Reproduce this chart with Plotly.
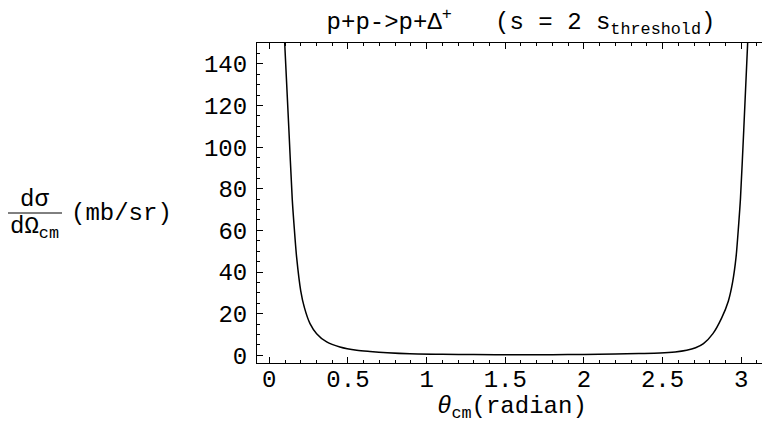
import plotly.graph_objects as go

# Data (theta in radians, dsigma/dOmega in mb/sr)
theta = [0.098, 0.125, 0.146, 0.157, 0.174, 0.200, 0.223, 0.259, 0.301, 0.365,
         0.449, 0.556, 0.640, 0.750, 0.894, 1.10, 1.30, 1.57, 1.80, 2.00,
         2.20, 2.35, 2.484, 2.58, 2.653, 2.71, 2.76, 2.82, 2.876, 2.918,
         2.945, 2.967, 2.984, 2.995, 3.016, 3.041]
dsigma = [150, 108, 75, 63, 47, 31, 23, 15.2, 10.4, 6.4,
          4.0, 2.4, 1.8, 1.2, 0.7, 0.45, 0.35, 0.3, 0.3, 0.4,
          0.6, 0.85, 1.1, 1.6, 2.4, 3.6, 5.6, 10.4, 18, 26,
          35, 47, 63, 75, 108, 150]

x_ticks = [0, 0.5, 1, 1.5, 2, 2.5, 3]
x_tick_labels = ["0", "0.5", "1", "1.5", "2", "2.5", "3"]
y_ticks = [0, 20, 40, 60, 80, 100, 120, 140]
y_tick_labels = ["0", "20", "40", "60", "80", "100", "120", "140"]

# page body has an 8px margin; the figure is sized to fill the rest of the window
OFF = 8
W, H = 770 - OFF, 423 - OFF
ML, MT, MB, MR = 257 - OFF, 43 - OFF, 60, 0
PW, PH = W - ML - MR, H - MT - MB

def px(X):
    return (X - OFF - ML) / PW

def py(Y):
    return (H - MB - (Y - OFF)) / PH

MONO = "Liberation Mono, Courier New, monospace"
FS = 24

fig = go.Figure()
fig.add_trace(go.Scatter(x=theta, y=dsigma, mode="lines",
                         line=dict(color="black", width=1.5, shape="spline", smoothing=0.8),
                         showlegend=False, hoverinfo="skip"))

fig.update_layout(
    width=W, height=H,
    margin=dict(l=ML, r=MR, t=MT, b=MB, pad=0),
    paper_bgcolor="white", plot_bgcolor="white",
    font=dict(family=MONO, size=FS, color="black"),
    title=dict(text="p+p->p+Δ<sup>+</sup>\u00a0\u00a0\u00a0(s = 2 s<sub>threshold</sub>)",
               xref="container", yref="container",
               x=(521 - OFF) / W, xanchor="center",
               y=1 - (21 - OFF) / H, yanchor="middle",
               font=dict(family=MONO, size=FS, color="black")),
)

fig.update_xaxes(range=[-0.078, 3.183], showgrid=False, zeroline=False,
                 showline=True, linecolor="black", linewidth=1, mirror="ticks",
                 ticks="inside", ticklen=6, tickwidth=1, tickcolor="black",
                 tickvals=x_ticks, ticktext=x_tick_labels,
                 ticklabelstandoff=-6,
                 tickfont=dict(family=MONO, size=FS, color="black"),
                 minor=dict(dtick=0.1, tick0=0, ticks="inside", ticklen=3,
                            tickwidth=1, tickcolor="black", showgrid=False))
fig.update_yaxes(range=[-3.7, 150], showgrid=False, zeroline=False,
                 showline=True, linecolor="black", linewidth=1, mirror=False,
                 ticks="inside", ticklen=6, tickwidth=1, tickcolor="black",
                 tickvals=y_ticks, ticktext=y_tick_labels,
                 ticklabelstandoff=4,
                 tickfont=dict(family=MONO, size=FS, color="black"),
                 minor=dict(dtick=5, tick0=0, ticks="inside", ticklen=3,
                            tickwidth=1, tickcolor="black", showgrid=False))

# Axis labels as annotations
fig.add_annotation(text="<i>θ</i><sub>cm</sub>(radian)", x=px(512), y=py(408),
                   xref="paper", yref="paper", showarrow=False,
                   xanchor="center", yanchor="middle",
                   font=dict(family=MONO, size=FS, color="black"))
fig.add_annotation(text="dσ", x=px(34), y=py(199), xref="paper", yref="paper",
                   showarrow=False, xanchor="center", yanchor="middle",
                   font=dict(family=MONO, size=FS, color="black"))
fig.add_annotation(text="dΩ<sub>cm</sub>", x=px(34), y=py(228), xref="paper", yref="paper",
                   showarrow=False, xanchor="center", yanchor="middle",
                   font=dict(family=MONO, size=FS, color="black"))
fig.add_annotation(text="(mb/sr)", x=px(121), y=py(213), xref="paper", yref="paper",
                   showarrow=False, xanchor="center", yanchor="middle",
                   font=dict(family=MONO, size=FS, color="black"))
fig.add_shape(type="line", xref="paper", yref="paper",
              x0=px(6), x1=px(62), y0=py(213), y1=py(213),
              line=dict(color="black", width=1))

fig.write_html("out.html")
